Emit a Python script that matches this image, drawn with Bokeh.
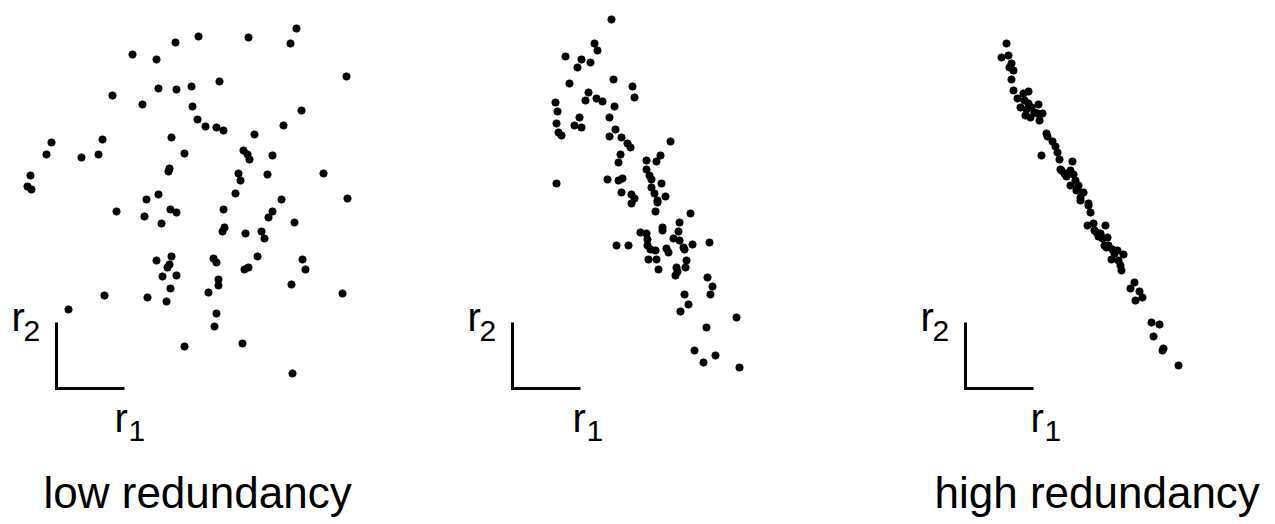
from bokeh.plotting import figure
from bokeh.models import Range1d
from bokeh.core.properties import value
from bokeh.embed import file_html
from bokeh.resources import INLINE

# ---- data: (r1, r2) values per panel ----
low_r1 = [240, 234, 192, 142, 119, 76, 100, 290, 163, 102, 120, 135, 56, 86, 136, 245, 141, 149, 160, 167,
          227, 198, -5, 46, 115, -10, 25, 42, 128, 187, 191, 193, 216, -26, -29, -25, 113, 112, 182, 184,
          211, 267, 179, 102, 90, 225, 291, 60, 88, 114, 120, 105, 167, 216, 212, 238, 168, 166, 189, 205,
          208, 100, 115, 113, 111, 106, 120, 157, 160, 201, 188, 192, 246, 249, 162, 162, 235, 114, 48, 91,
          110, 152, 286, 12, 160, 158, 128, 186, 236]
low_r2 = [360, 345, 351, 352, 346, 334, 329, 312, 307, 300, 299, 302, 293, 284, 282, 278, 269, 262, 261, 258,
          263, 254, 246, 249, 251, 234, 231, 234, 235, 238, 234, 229, 233, 213, 202, 199, 220, 217, 215, 208,
          214, 215, 195, 194, 189, 189, 190, 177, 172, 179, 176, 165, 179, 177, 171, 166, 161, 157, 155, 157,
          150, 128, 132, 124, 121, 112, 113, 130, 126, 132, 119, 121, 129, 119, 109, 103, 104, 100, 93, 91,
          87, 96, 95, 79, 75, 62, 42, 45, 15]

mid_r1 = [99, 82, 85, 53, 69, 78, 65, 101, 57, 120, 122, 76, 73, 84, 90, 102, 43, 45, 67, 97,
          44, 62, 69, 46, 49, 103, 97, 109, 115, 118, 158, 108, 106, 134, 148, 144, 134, 137, 139, 149,
          44, 95, 106, 110, 139, 142, 109, 119, 122, 153, 145, 119, 145, 143, 178, 167, 150, 150, 166, 128,
          134, 135, 161, 167, 104, 116, 135, 138, 143, 154, 156, 171, 172, 180, 197, 136, 144, 146, 174, 173,
          164, 165, 163, 195, 200, 198, 172, 176, 168, 224, 194, 182, 191, 203, 227]
mid_r2 = [369, 345, 338, 332, 329, 326, 321, 309, 305, 302, 291, 296, 288, 290, 287, 282, 286, 277, 271, 271,
          265, 263, 261, 256, 253, 259, 252, 251, 245, 241, 247, 234, 226, 228, 233, 227, 219, 213, 209, 205,
          205, 209, 208, 210, 201, 195, 196, 194, 190, 192, 188, 185, 186, 177, 175, 166, 161, 158, 157, 156,
          155, 149, 150, 148, 143, 143, 143, 139, 138, 140, 136, 141, 139, 144, 146, 129, 129, 119, 128, 121,
          121, 117, 113, 111, 102, 94, 94, 84, 77, 71, 61, 38, 26, 33, 21]

high_r1 = [41, 36, 43, 46, 44, 48, 46, 48, 52, 58, 63, 59, 55, 63, 73, 61, 60, 65, 72, 77,
           74, 66, 69, 81, 82, 87, 90, 92, 94, 76, 107, 95, 99, 105, 108, 110, 105, 113, 111, 118,
           115, 123, 115, 123, 125, 122, 128, 140, 129, 135, 137, 142, 139, 143, 147, 152, 158, 146, 153, 155,
           156, 169, 165, 174, 177, 170, 186, 194, 188, 198, 197, 213, 133, 101, 112, 131, 141, 149, 96, 102]
high_r2 = [345, 331, 333, 325, 321, 318, 309, 298, 290, 295, 297, 288, 281, 285, 284, 279, 273, 271, 275, 275,
           268, 281, 276, 255, 252, 247, 242, 236, 229, 233, 227, 219, 215, 218, 214, 208, 203, 203, 198, 196,
           191, 185, 188, 183, 176, 163, 165, 163, 158, 155, 150, 151, 143, 143, 139, 138, 134, 129, 128, 123,
           118, 106, 100, 97, 91, 88, 66, 64, 52, 40, 38, 23, 152, 212, 200, 156, 141, 135, 218, 215]

panel_labels = ["low redundancy", "", "high redundancy"]
axis_names = ["r", "r"]
axis_subs = ["1", "2"]

# ---- layout (screen-pixel frame) ----
W, H = 1275, 524
origins = [(56, 388), (512, 388), (965, 388)]
r1_dx = [58, 60, 65]
label_x = [43, None, 934]
AX_LEN = 68
TY = -11  # baseline correction for SVG text

p = figure(width=W, height=H, output_backend="svg", toolbar_location=None,
           x_range=Range1d(0, W), y_range=Range1d(H, 0), min_border=0)
p.axis.visible = False
p.grid.visible = False
p.outline_line_color = None
p.background_fill_color = "white"
p.border_fill_color = "white"

font = value("Liberation Sans")
panels = [(low_r1, low_r2), (mid_r1, mid_r2), (high_r1, high_r2)]
for i, ((r1, r2), (ox, oy)) in enumerate(zip(panels, origins)):
    xs = [ox + a for a in r1]
    ys = [oy - b for b in r2]
    p.scatter(xs, ys, marker="circle", size=7.5, fill_color="black", line_color="black", line_width=0.6)
    # L-shaped axes
    p.line([ox, ox, ox + AX_LEN], [oy - 66, oy, oy], line_color="black", line_width=3,
           line_join="miter")
    # r2 label
    p.text(x=[ox - 45], y=[oy - 61 + TY], text=[axis_names[1]], text_font=font, text_font_size="40px",
           text_baseline="alphabetic", text_align="left", text_color="black")
    p.text(x=[ox - 33], y=[oy - 47 + TY], text=[axis_subs[1]], text_font=font, text_font_size="30px",
           text_baseline="alphabetic", text_align="left", text_color="black")
    # r1 label
    p.text(x=[ox + r1_dx[i]], y=[oy + 40 + TY], text=[axis_names[0]], text_font=font, text_font_size="40px",
           text_baseline="alphabetic", text_align="left", text_color="black")
    p.text(x=[ox + r1_dx[i] + 14], y=[oy + 53 + TY], text=[axis_subs[0]], text_font=font,
           text_font_size="30px", text_baseline="alphabetic", text_align="left", text_color="black")
    if panel_labels[i]:
        p.text(x=[label_x[i]], y=[503 + TY], text=[panel_labels[i]], text_font=font, text_font_size="44px",
               text_baseline="alphabetic", text_align="left", text_color="black")

open("out.html", "w").write(file_html(p, INLINE))
